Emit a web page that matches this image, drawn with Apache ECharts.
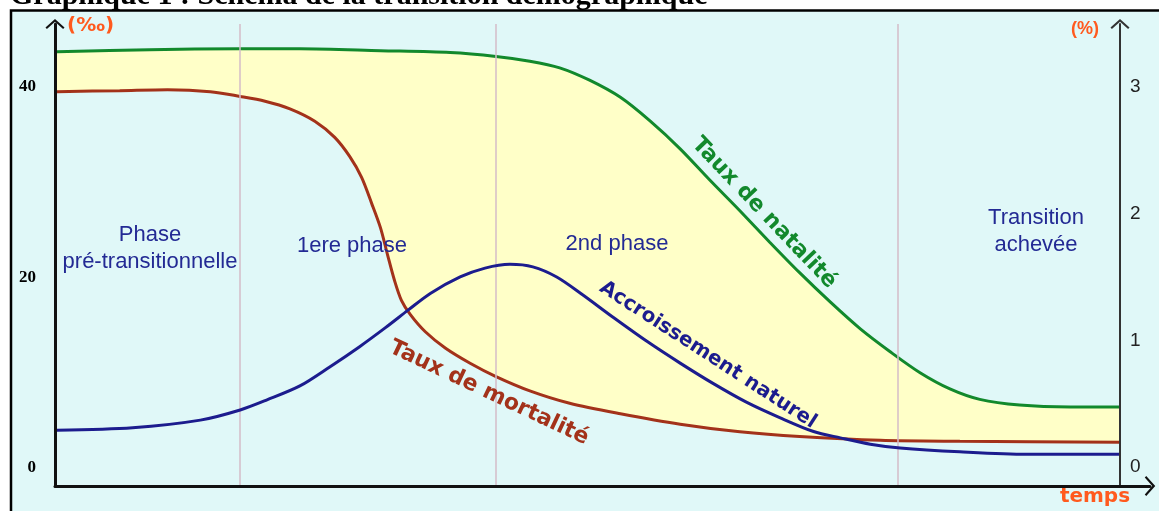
<!DOCTYPE html>
<html>
<head>
<meta charset="utf-8">
<title>Transition démographique</title>
<script src="https://cdn.jsdelivr.net/npm/echarts@6/dist/echarts.min.js"></script>
<style>
  html, body { margin: 0; padding: 0; background: #fff; }
  #chart { width: 1159px; height: 511px; }
</style>
</head>
<body>
<div id="chart"></div>
<script>
const birthT = [0.2, 9.5, 18.6, 24.6, 32.7, 39.7, 44.3, 47.7, 50.7, 53.7, 56.8, 59.8, 62.8, 65.8, 68.8, 71.8, 74.8, 77.9, 80.9, 83.9, 86.9, 89.9, 92.9, 96.9, 102.0, 107.0];
const birthRate = [43.7, 43.9, 44.0, 44.0, 43.8, 43.6, 43.2, 42.7, 42.0, 40.7, 38.9, 36.4, 33.5, 30.2, 27.0, 23.7, 20.5, 17.4, 14.6, 12.2, 10.0, 8.3, 7.2, 6.6, 6.4, 6.4];

const deathT = [0.2, 6.5, 11.3, 15.6, 18.6, 21.1, 23.6, 26.1, 28.1, 29.6, 30.8, 31.8, 32.7, 33.4, 34.1, 34.8, 35.7, 37.2, 39.2, 41.7, 44.3, 47.7, 51.7, 56.8, 62.8, 68.8, 74.8, 82.9, 90.9, 107.0];
const deathRate = [39.5, 39.6, 39.7, 39.5, 39.0, 38.5, 37.7, 36.4, 34.7, 32.7, 30.5, 27.8, 25.2, 22.4, 19.7, 17.6, 16.1, 14.3, 12.6, 11.0, 9.6, 8.1, 6.8, 5.7, 4.6, 3.8, 3.3, 2.9, 2.8, 2.7];

const growthT = [0.2, 7.8, 14.6, 18.6, 21.3, 24.6, 27.6, 30.6, 33.2, 35.5, 37.7, 40.7, 43.2, 45.7, 48.0, 50.4, 53.0, 56.1, 59.5, 62.8, 66.1, 69.5, 72.8, 76.2, 78.9, 81.9, 84.9, 90.9, 97.6, 107.0];
const growthPct = [0.29, 0.31, 0.37, 0.45, 0.53, 0.64, 0.79, 0.95, 1.10, 1.24, 1.37, 1.50, 1.57, 1.60, 1.58, 1.50, 1.36, 1.18, 0.99, 0.82, 0.66, 0.51, 0.39, 0.28, 0.23, 0.18, 0.15, 0.12, 0.10, 0.10];

// limites des phases
const phaseT = [18.6, 44.3, 84.7];

const leftTicks = [0, 20, 40];
const rightTicks = [0, 1, 2, 3];

const BG = '#e0f8f8';
const FILL = '#ffffc8';
const GREEN = '#12892c';
const RED = '#a3321a';
const BLUE = '#1c1c8e';
const ORANGE = '#ff5a1e';
const PHASE_TXT = '#232a94';

const zip = (xs, ys) => xs.map((x, i) => [x, ys[i]]);

// flèche ouverte en chevron
const chevron = 'path://M0,9 L10,0 L20,9 L18.5,10.5 L10,3 L1.5,10.5 Z';

const chart = echarts.init(document.getElementById('chart'));

const curve = {
  type: 'line',
  smooth: 0.3,
  symbol: 'none'
};

const option = {
  animation: false,
  backgroundColor: '#fff',
  grid: { left: 55, right: 9, top: 24, bottom: 25 },
  xAxis: {
    type: 'value',
    min: 0,
    max: 110,
    z: 10,
    axisLine: {
      onZero: false,
      lineStyle: { color: '#111', width: 3 },
      symbol: ['none', chevron],
      symbolSize: [20, 14]
    },
    axisTick: { show: false },
    axisLabel: { show: false },
    splitLine: { show: false }
  },
  yAxis: [
    {
      type: 'value',
      min: -1.89,
      max: 46.6,
      z: 10,
      axisLine: {
        show: true,
        onZero: false,
        lineStyle: { color: '#111', width: 3 },
        symbol: ['none', chevron],
        symbolSize: [22, 10]
      },
      axisTick: { show: false },
      splitLine: { show: false },
      axisLabel: {
        customValues: leftTicks,
        margin: 19,
        color: '#000',
        fontFamily: 'Liberation Serif',
        fontWeight: 'bold',
        fontSize: 17
      }
    },
    {
      type: 'value',
      position: 'right',
      offset: -30,
      min: -0.15,
      max: 3.497,
      z: 10,
      axisLine: {
        show: true,
        onZero: false,
        lineStyle: { color: '#333', width: 2 },
        symbol: ['none', chevron],
        symbolSize: [20, 10]
      },
      axisTick: { show: false },
      splitLine: { show: false },
      axisLabel: {
        customValues: rightTicks,
        margin: 10,
        color: '#222',
        fontFamily: 'Liberation Sans',
        fontSize: 19
      }
    }
  ],
  series: [
    Object.assign({}, curve, {
      name: 'Taux de natalité',
      z: 2,
      data: zip(birthT, birthRate),
      lineStyle: { color: GREEN, width: 3 },
      areaStyle: { color: FILL, opacity: 1, origin: 'start' }
    }),
    Object.assign({}, curve, {
      name: 'Taux de mortalité',
      z: 3,
      data: zip(deathT, deathRate),
      lineStyle: { color: RED, width: 3 },
      areaStyle: { color: BG, opacity: 1, origin: 'start' }
    }),
    {
      name: 'phases',
      type: 'line',
      data: [],
      z: 4,
      markLine: {
        silent: true,
        symbol: 'none',
        label: { show: false },
        lineStyle: { color: '#d5bcc8', width: 1.5, type: 'solid' },
        data: phaseT.map(t => ({ xAxis: t }))
      }
    },
    Object.assign({}, curve, {
      name: 'Accroissement naturel',
      yAxisIndex: 1,
      z: 5,
      data: zip(growthT, growthPct),
      lineStyle: { color: BLUE, width: 3 }
    })
  ],
  graphic: [
    {
      type: 'rect',
      z: -10,
      shape: { x: 11, y: 10.5, width: 1170, height: 520 },
      style: { fill: BG, stroke: '#000', lineWidth: 2.5 }
    },
    {
      type: 'text', z: 100, x: 10, y: -4,
      style: { text: 'Graphique 1 : Schéma de la transition démographique', fill: '#000',
        font: 'bold 30px "Liberation Serif"', verticalAlign: 'middle' }
    },
    {
      type: 'text', z: 100, x: 67, y: 26,
      style: { text: '(‰)', fill: ORANGE, font: 'bold 20px "DejaVu Sans"', verticalAlign: 'middle' }
    },
    {
      type: 'text', z: 100, x: 1071, y: 29,
      style: { text: '(%)', fill: ORANGE, font: 'bold 18px "Liberation Sans"', verticalAlign: 'middle' }
    },
    {
      type: 'text', z: 100, x: 1095, y: 497,
      style: { text: 'temps', fill: ORANGE, font: 'bold 20px "DejaVu Sans"', align: 'center', verticalAlign: 'middle' }
    },
    {
      type: 'text', z: 100, x: 150, y: 248,
      style: { text: 'Phase\npré-transitionnelle', fill: PHASE_TXT, font: '22px "Liberation Sans"',
        lineHeight: 27, align: 'center', verticalAlign: 'middle' }
    },
    {
      type: 'text', z: 100, x: 352, y: 246,
      style: { text: '1ere phase', fill: PHASE_TXT, font: '22px "Liberation Sans"', align: 'center', verticalAlign: 'middle' }
    },
    {
      type: 'text', z: 100, x: 617, y: 244,
      style: { text: '2nd phase', fill: PHASE_TXT, font: '22px "Liberation Sans"', align: 'center', verticalAlign: 'middle' }
    },
    {
      type: 'text', z: 100, x: 1036, y: 231,
      style: { text: 'Transition\nachevée', fill: PHASE_TXT, font: '22px "Liberation Sans"',
        lineHeight: 27, align: 'center', verticalAlign: 'middle' }
    },
    {
      type: 'text', z: 100, x: 764, y: 213, rotation: -0.81,
      style: { text: 'Taux de natalité', fill: GREEN, font: 'bold 22px "DejaVu Sans"', align: 'center', verticalAlign: 'middle' }
    },
    {
      type: 'text', z: 100, x: 489, y: 393, rotation: -0.44,
      style: { text: 'Taux de mortalité', fill: RED, font: 'bold 22px "DejaVu Sans"', align: 'center', verticalAlign: 'middle' }
    },
    {
      type: 'text', z: 100, x: 708, y: 355, rotation: -0.575,
      style: { text: 'Accroissement naturel', fill: BLUE, font: 'bold 20px "DejaVu Sans"', align: 'center', verticalAlign: 'middle' }
    }
  ]
};

chart.setOption(option);
</script>
</body>
</html>
